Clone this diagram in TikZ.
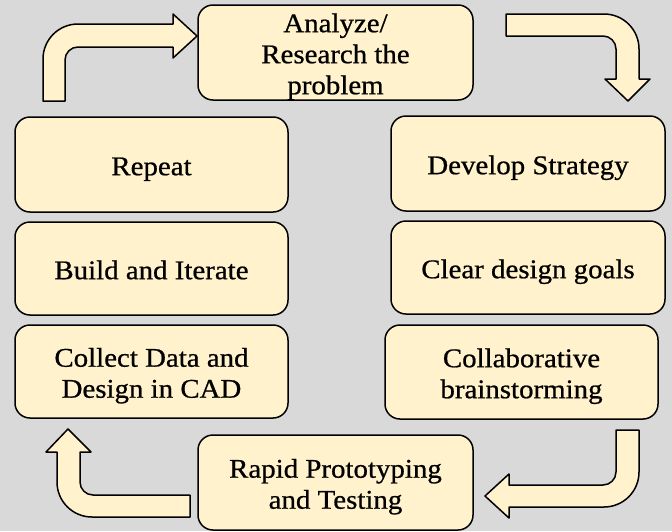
\documentclass[tikz,border=0pt]{standalone}
\usepackage{fontspec}
\setmainfont{Liberation Serif}[FakeStretch=1.07,FakeBold=0.7]
\definecolor{pagegray}{HTML}{D9D9D9}
\definecolor{cream}{HTML}{FFF2CC}
% centred lines, set a little low in their box (box size kept)
\newcommand\steplines[1]{\raisebox{-4.5pt}[\height][\depth]{\begin{tabular}{@{}c@{}}#1\end{tabular}}}
\begin{document}
\begin{tikzpicture}[x=1pt,y=-1pt,
  stepbox/.style={draw=black,line width=1.5pt,fill=cream,rounded corners=15pt,
    inner sep=0pt,font=\fontsize{27}{31}\selectfont,
    minimum width=274pt,minimum height=94pt},
  blockarrow/.style={draw=black,line width=1.5pt,fill=cream,line join=round}]
% canvas
\fill[pagegray] (0,0) rectangle (672,531);
\useasboundingbox (0,0) rectangle (672,531);

% process steps
\node[stepbox,minimum width=275pt,minimum height=95pt] (analyze) at (335.5,52.5) {\steplines{Analyze/\\Research the\\problem}};
\node[stepbox,minimum height=95pt] (develop) at (528,163.5) {\steplines{Develop Strategy}};
\node[stepbox,minimum height=93pt] (clear) at (528,267.5) {\steplines{Clear design goals}};
\node[stepbox,minimum width=273pt] (collab) at (521.5,372) {\steplines{Collaborative\\brainstorming}};
\node[stepbox,minimum width=275pt,minimum height=95pt] (rapid) at (335.5,482.5) {\steplines{Rapid Prototyping\\and Testing}};
\node[stepbox,minimum width=273pt,minimum height=93pt] (collect) at (151.5,371.5) {\steplines{Collect Data and\\Design in CAD}};
\node[stepbox,minimum width=273pt,minimum height=93pt] (build) at (151.5,268.5) {\steplines{Build and Iterate}};
\node[stepbox,minimum width=273pt,minimum height=95pt] (repeat) at (151.5,164.5) {\steplines{Repeat}};

% bent block arrows closing the cycle
% up then right, into the first step
\draw[blockarrow] (43,101) -- (43,59) arc (180:270:35) -- (173,24) -- (173,14)
  -- (197,36) -- (173,58) -- (173,47) -- (78,47) arc (270:180:13) -- (65,101) -- cycle;
% right then down
\draw[blockarrow] (506,14) -- (604,14) arc (270:360:35) -- (639,79) -- (650,79)
  -- (628,101) -- (605,79) -- (616,79) -- (616,49) arc (0:-90:13) -- (506,36) -- cycle;
% down then left
\draw[blockarrow] (616,430) -- (639,430) -- (639,472) arc (0:90:35) -- (509,507)
  -- (509,518) -- (485,496) -- (509,474) -- (509,485) -- (603,485) arc (90:0:13) -- cycle;
% left then up
\draw[blockarrow] (190,495) -- (190,517) -- (92,517) arc (90:180:35) -- (57,452)
  -- (46,452) -- (68,429) -- (91,452) -- (80,452) -- (80,482) arc (180:90:13) -- cycle;
\end{tikzpicture}
\end{document}
